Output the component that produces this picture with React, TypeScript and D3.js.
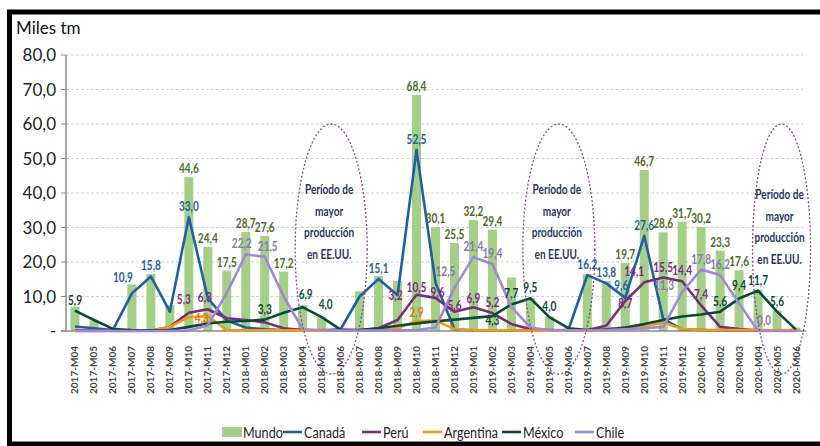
import * as d3 from 'd3'

const months = [
  '2017-M04', '2017-M05', '2017-M06', '2017-M07', '2017-M08', '2017-M09', '2017-M10', '2017-M11', '2017-M12',
  '2018-M01', '2018-M02', '2018-M03', '2018-M04', '2018-M05', '2018-M06', '2018-M07', '2018-M08', '2018-M09',
  '2018-M10', '2018-M11', '2018-M12', '2019-M01', '2019-M02', '2019-M03', '2019-M04', '2019-M05', '2019-M06',
  '2019-M07', '2019-M08', '2019-M09', '2019-M10', '2019-M11', '2019-M12', '2020-M01', '2020-M02', '2020-M03',
  '2020-M04', '2020-M05', '2020-M06',
]

const mundo = [
  7.0, 3.0, 1.0, 13.5, 16.5, 7.5, 44.6, 24.4, 17.5, 28.7, 27.6, 17.2, 7.5, 4.0, 0.8, 11.5, 16.0, 14.5, 68.4, 30.1,
  25.5, 32.2, 29.4, 15.5, 9.5, 4.2, 0.8, 16.5, 14.5, 19.7, 46.7, 28.6, 31.7, 30.2, 23.3, 17.6, 12.0, 6.0, 1.0,
]
const canada = [
  1.3, 0.8, 0.3, 10.9, 15.8, 5.6, 33.0, 9.5, 3.0, 1.0, 0.5, 0.3, 0.3, 0.2, 0.5, 10.0, 15.1, 10.4, 52.5, 14.0,
  0.5, 0.2, 0.2, 0.2, 0.2, 0.2, 0.3, 16.2, 13.8, 9.6, 27.6, 3.5, 0.5, 0.3, 0.2, 0.2, 0.2, 0.2, 0.2,
]
const peru = [
  0.2, 0.1, 0.1, 0.1, 0.1, 1.2, 5.3, 6.3, 3.7, 3.2, 2.5, 0.8, 0.3, 0.2, 0.2, 0.3, 0.8, 3.2, 10.5, 9.6,
  5.6, 6.9, 5.2, 2.0, 0.5, 0.3, 0.2, 0.3, 1.5, 8.7, 14.1, 15.5, 14.4, 7.4, 1.2, 0.6, 0.2, 0.1, 0.1,
]
const argentina = [
  0.0, 0.0, 0.0, 0.0, 0.1, 1.2, 4.0, 4.3, 0.3, 0.2, 0.2, 0.2, 0.1, 0.1, 0.1, 0.1, 0.2, 0.8, 2.9, 3.0,
  0.6, 0.2, 0.2, 0.2, 0.1, 0.1, 0.1, 0.1, 0.2, 0.3, 1.3, 2.5, 0.6, 0.3, 0.3, 0.3, 0.3, 0.3, 0.3,
]
const mexico = [
  5.9, 3.2, 0.6, 0.3, 0.2, 0.3, 1.2, 2.2, 2.7, 2.9, 3.3, 5.3, 6.9, 4.0, 0.4, 0.3, 0.8, 1.5, 2.2, 2.8,
  3.3, 3.8, 4.3, 7.7, 9.5, 4.0, 0.8, 0.3, 0.5, 1.0, 2.0, 3.2, 4.2, 4.8, 5.6, 9.4, 11.7, 5.6, 0.4,
]
const chile = [
  0.0, 0.0, 0.0, 0.0, 0.0, 0.0, 0.1, 1.7, 11.0, 22.2, 21.5, 10.0, 0.5, 0.2, 0.1, 0.1, 0.1, 0.2, 0.3, 1.0,
  12.5, 21.4, 19.4, 7.0, 1.0, 0.2, 0.2, 0.2, 0.3, 0.5, 0.8, 1.2, 11.3, 17.8, 16.2, 8.0, 0.0, 0.0, 0.0,
]

// indices with a visible data label
const mundoLabels = [6, 7, 8, 9, 10, 11, 18, 19, 20, 21, 22, 29, 30, 31, 32, 33, 34, 35]
const canadaLabels = [3, 4, 6, 16, 18, 27, 28, 29, 30]
const peruLabels = [6, 7, 17, 18, 19, 20, 21, 22, 29, 30, 31, 32, 33]
const argentinaLabels = [7, 18]
const mexicoLabels = [0, 10, 12, 13, 22, 23, 24, 25, 34, 35, 36, 37]
const chileLabels = [9, 10, 20, 21, 22, 32, 33, 34, 36]

const yTicks = [0, 10, 20, 30, 40, 50, 60, 70, 80]
const periods = [
  ['2018-M05', '2018-M06'],
  ['2019-M05', '2019-M06'],
  ['2020-M05', '2020-M06'],
]
const periodText = ['Período de', 'mayor', 'producción', 'en EE.UU.']

const FONT = "Lato, 'Open Sans', sans-serif"

const series = [
  { name: 'Canadá', values: canada, labels: canadaLabels, color: '#1F5FA6', text: '#23619F' },
  { name: 'Perú', values: peru, labels: peruLabels, color: '#7B2A83', text: '#7B2A83' },
  { name: 'Argentina', values: argentina, labels: argentinaLabels, color: '#F59A0C', text: '#E0780A' },
  { name: 'México', values: mexico, labels: mexicoLabels, color: '#0B4A3B', text: '#0B4A3B' },
  { name: 'Chile', values: chile, labels: chileLabels, color: '#A386DA', text: '#8A76B4' },
]

// hand nudges for crowded labels
const nudges: Record<string, [number, number]> = {
  'Canadá-3': [-9, -5],
  'Perú-6': [-5, -3],
  'Perú-7': [-3, -1],
  'Argentina-7': [-6, 13],
  'Perú-17': [-2, -14],
  'Perú-18': [0, 3],
  'Argentina-18': [0, 2],
  'Perú-19': [2, 5],
  'Chile-20': [-9, -6],
  'Perú-20': [0, 4],
  'Perú-21': [0, 2],
  'Perú-22': [0, 0],
  'Chile-9': [-4, 0],
  'Chile-10': [3, 0],
  'México-13': [4, -2],
  'México-12': [3, -2],
  'México-22': [0, 15],
  'Canadá-29': [-4, -2],
  'Perú-29': [0, 13],
  'Perú-30': [-10, 0],
  'Chile-32': [-18, 4],
  'México-35': [0, -3],
  'Chile-36': [6, 0],
}

const fmt = (v: number) => d3.format('.1f')(v).replace('.', ',')

function CText({ x, y, sx = 1, anchor = 'middle', children, ...rest }: any) {
  return (
    <text
      transform={`translate(${x},${y}) scale(${sx},1)`}
      textAnchor={anchor}
      fontFamily={FONT}
      {...rest}
    >
      {children}
    </text>
  )
}

export default function App() {
  const W = 820
  const H = 446
  const x = d3.scaleBand<string>().domain(months).range([65.5, 805.5])
  const cx = (m: string) => (x(m) ?? 0) + x.bandwidth() / 2
  const y = d3.scaleLinear().domain([0, 80]).range([331, 55])
  const barW = 9

  const line = d3
    .line<number>()
    .x((_, i) => cx(months[i]))
    .y(d => y(d))

  const legend = [
    { name: 'Mundo', x: 222, kind: 'bar', color: '#A3CF86' },
    ...series.map((s, i) => ({ name: s.name, x: [283, 362, 423, 502, 575][i], kind: 'line', color: s.color })),
  ]

  return (
    <div style={{ position: 'absolute', left: 0, top: 0 }}>
      <svg width={W} height={H} style={{ display: 'block', background: '#fff' }}>
        <rect x={9.5} y={12} width={820} height={432} fill="#fff" stroke="#000" strokeWidth={5} />

        <CText x={16} y={34} anchor="start" fontSize={17} fill="#111">Miles tm</CText>

        {yTicks.map(t => (
          <g key={t}>
            {t > 0 && (
              <line x1={66} x2={803} y1={y(t)} y2={y(t)} stroke="#cfcfcf" strokeDasharray="3,2" />
            )}
            <line x1={61} x2={66} y1={y(t)} y2={y(t)} stroke="#8a8a8a" />
            <CText x={56} y={y(t) + 6} anchor="end" fontSize={17} fill="#222">
              {t === 0 ? '-' : fmt(t)}
            </CText>
          </g>
        ))}
        <line x1={66} x2={66} y1={y(80)} y2={y(0)} stroke="#8a8a8a" strokeWidth={1.5} />

        {months.map((m, i) => (
          <rect
            key={m}
            x={cx(m) - barW / 2}
            y={y(mundo[i])}
            width={barW}
            height={y(0) - y(mundo[i])}
            fill="#A3CF86"
          />
        ))}

        <line x1={61} x2={806} y1={y(0)} y2={y(0)} stroke="#8a8a8a" strokeWidth={1.5} />

        {series.map(s => (
          <path key={s.name} d={line(s.values) ?? ''} fill="none" stroke={s.color} strokeWidth={2.6} strokeLinejoin="round" />
        ))}

        {periods.map((p, k) => {
          const ex = (cx(p[0]) + cx(p[1])) / 2 - (k === 2 ? 5 : 0)
          return (
            <g key={k}>
              <ellipse cx={ex} cy={249} rx={k === 2 ? 29 : 36} ry={125} fill="none" stroke="#7E4E8E" strokeWidth={1.3} strokeDasharray="2,2" />
              {periodText.map((t, j) => (
                <CText key={t} x={ex - 2} y={194 + (k === 2 ? 5 : 0) + j * 21.5} sx={0.72} fontSize={14} fontWeight={700} fill="#1F3864">
                  {t}
                </CText>
              ))}
            </g>
          )
        })}

        {mundoLabels.map(i => (
          <CText key={'m' + i} x={cx(months[i])} y={y(mundo[i]) - 4} sx={0.72} fontSize={14} fontWeight={700} fill="#4E6B1F">
            {fmt(mundo[i])}
          </CText>
        ))}
        {series.map(s =>
          s.labels.map(i => {
            const [dx, dy] = nudges[`${s.name}-${i}`] ?? [0, 0]
            return (
              <CText
                key={s.name + i}
                x={cx(months[i]) + dx}
                y={y(s.values[i]) - 6 + dy}
                sx={0.72}
                fontSize={14}
                fontWeight={700}
                fill={s.text}
              >
                {fmt(s.values[i])}
              </CText>
            )
          })
        )}

        {months.map(m => (
          <text
            key={'t' + m}
            transform={`translate(${cx(m) + 3.5},346) rotate(-90)`}
            textAnchor="end"
            fontFamily={FONT}
            fontSize={10}
            fontWeight={700}
            fill="#444"
          >
            {m}
          </text>
        ))}

        {legend.map(l => (
          <g key={l.name}>
            {l.kind === 'bar' ? (
              <rect x={l.x} y={427} width={20} height={10} fill={l.color} />
            ) : (
              <line x1={l.x} x2={l.x + 19} y1={432} y2={432} stroke={l.color} strokeWidth={2.6} />
            )}
            <CText x={l.x + 21} y={438} anchor="start" sx={0.84} fontSize={15} fill="#222">
              {l.name}
            </CText>
          </g>
        ))}
      </svg>
    </div>
  )
}
